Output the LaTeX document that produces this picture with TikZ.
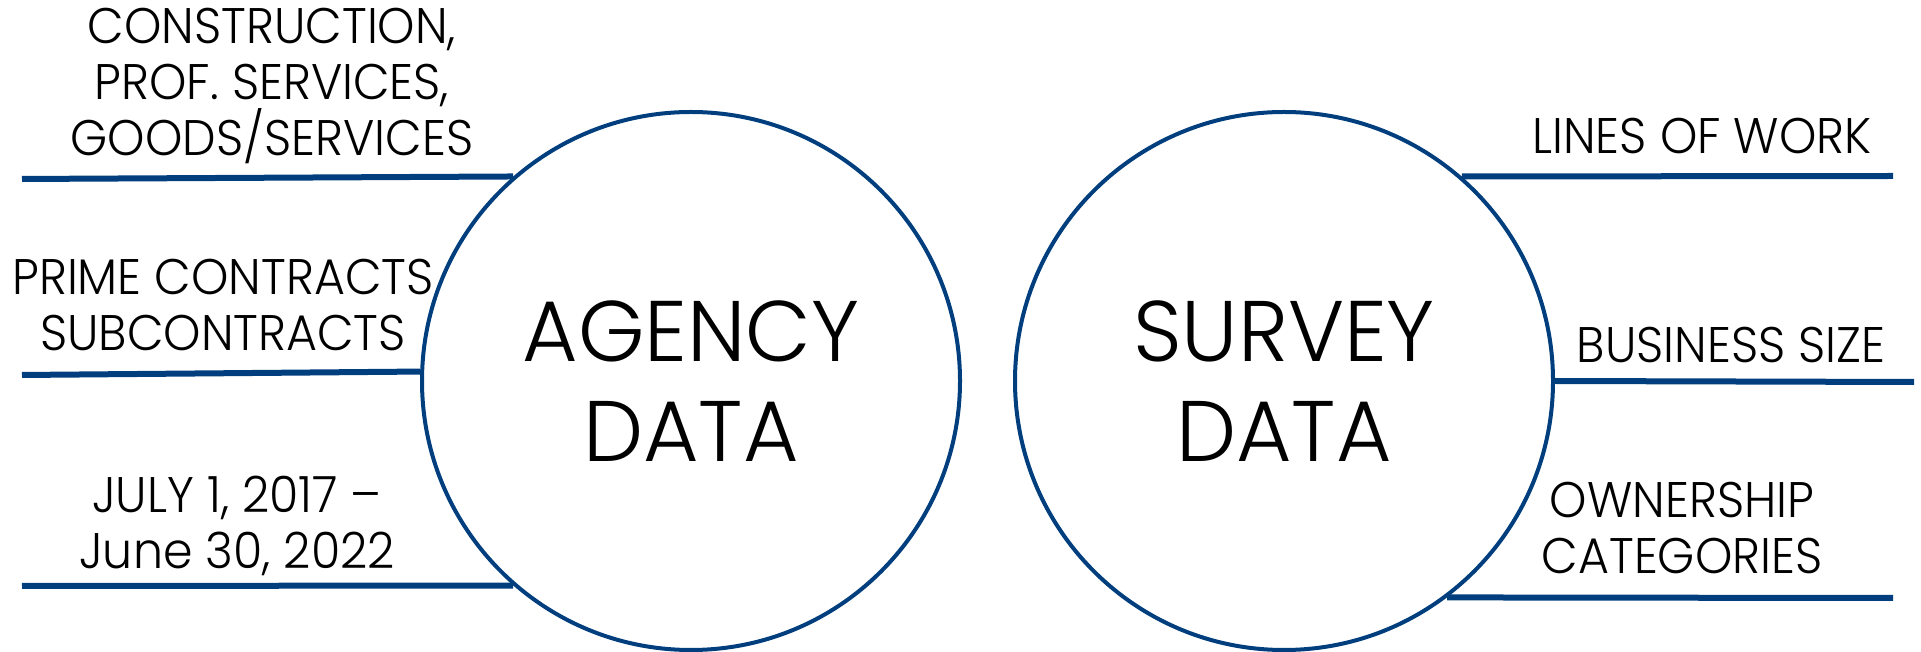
\documentclass[tikz,border=0pt]{standalone}
\usepackage{fontspec}
\setmainfont{Poppins}[UprightFont=* Light,FakeStretch=0.95]
\newfontfamily\circlefont{Poppins}[UprightFont=* Light,FakeStretch=0.99]
\definecolor{lineblue}{RGB}{0,62,126}
\tikzset{
  small label/.style={align=center,font=\fontsize{50bp}{56bp}\selectfont,inner sep=0pt},
  data circle/.style={circle,draw=lineblue,line width=4bp,minimum size=538bp,inner sep=0pt,
    align=center,font=\circlefont\fontsize{86bp}{100bp}\selectfont},
  bar/.style={lineblue,line width=6bp},
}
\begin{document}
\begin{tikzpicture}[>=latex,line join=bevel,]
\useasboundingbox (0bp,0bp) rectangle (1921bp,652bp);
%%
\node (node_agency) at (691bp,271bp) [data circle] {AGENCY\\DATA};
  \node (node_survey) at (1284bp,271bp) [data circle] {SURVEY\\DATA};
%
\node (node_types) at (272bp,566bp) [small label] {CONSTRUCTION,\\PROF. SERVICES,\\GOODS/SERVICES};
  \node (node_contracts) at (223bp,347bp) [small label] {PRIME CONTRACTS\\SUBCONTRACTS};
  \node (node_period) at (237bp,126bp) [small label] {JULY 1, 2017 --\\June 30, 2022};
  \node (node_work) at (1702bp,516bp) [small label] {LINES OF WORK};
  \node (node_size) at (1731bp,307bp) [small label] {BUSINESS SIZE};
  \node (node_owner) at (1682bp,124bp) [small label] {OWNERSHIP\\CATEGORIES};
%
\coordinate (end_types) at (22bp,473bp);
  \coordinate (end_contracts) at (22bp,277bp);
  \coordinate (end_period) at (22bp,66bp);
  \coordinate (end_work) at (1893bp,476bp);
  \coordinate (end_size) at (1914bp,270bp);
  \coordinate (end_owner) at (1893bp,54bp);
%
\draw [bar] (end_types) -- (node_agency.131.3);
  \draw [bar] (end_contracts) -- (node_agency.178.7);
  \draw [bar] (end_period) -- (node_agency.229.6);
  \draw [bar] (node_survey.49.6) -- (end_work);
  \draw [bar] (node_survey.east) -- (end_size);
  \draw [bar] (node_survey.-53.4) -- (end_owner);
%
\end{tikzpicture}
\end{document}
